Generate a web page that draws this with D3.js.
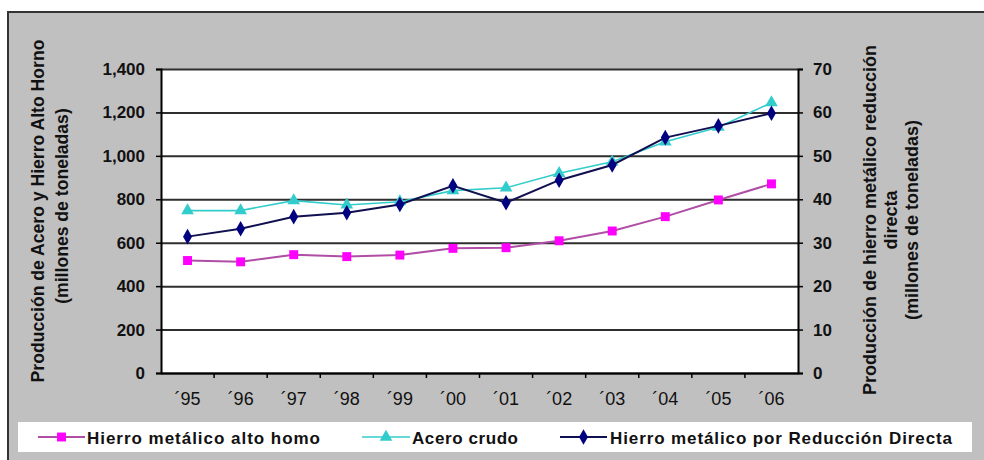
<!DOCTYPE html>
<html>
<head>
<meta charset="utf-8">
<script src="https://cdn.jsdelivr.net/npm/d3@7"></script>
<style>
  html, body { margin: 0; padding: 0; background: #ffffff; }
  svg { display: block; }
  text { font-family: "Liberation Sans", Arial, sans-serif; fill: #111; }
</style>
</head>
<body>
<svg id="chart" width="984" height="460"></svg>
<script>
// Years on the category axis
const years = ["´95", "´96", "´97", "´98", "´99", "´00", "´01", "´02", "´03", "´04", "´05", "´06"];

// Left axis series (millones de toneladas)
const hierroAltoHorno = [518, 512, 545, 536, 543, 574, 577, 609, 654, 720, 797, 871];
const aceroCrudo      = [748, 748, 794, 774, 789, 840, 853, 920, 973, 1065, 1132, 1245];

// Right axis series (millones de toneladas)
const hierroReduccion = [31.4, 33.2, 36.0, 36.9, 38.8, 43.1, 39.2, 44.4, 47.9, 54.2, 56.9, 59.8];

// Tick values
const leftTicks  = [0, 200, 400, 600, 800, 1000, 1200, 1400];
const rightTicks = [0, 10, 20, 30, 40, 50, 60, 70];

const legendLabels = ["Hierro metálico alto homo", "Acero crudo", "Hierro metálico por Reducción Directa"];

const svg = d3.select("#chart");

// Frame geometry
const plot = { left: 161, right: 798, top: 69, bottom: 373 };

// Outer gray chart area
svg.append("rect")
  .attr("x", 8).attr("y", 12)
  .attr("width", 1000).attr("height", 470)
  .attr("fill", "#c0c0c0")
  .attr("stroke", "#333").attr("stroke-width", 2);

// Plot background
svg.append("rect")
  .attr("x", plot.left).attr("y", plot.top)
  .attr("width", plot.right - plot.left).attr("height", plot.bottom - plot.top)
  .attr("fill", "#ffffff");

const x = d3.scaleBand().domain(years).range([plot.left, plot.right]);
const yL = d3.scaleLinear().domain([0, 1400]).range([plot.bottom, plot.top]);
const yR = d3.scaleLinear().domain([0, 70]).range([plot.bottom, plot.top]);
const cx = d => x(d) + x.bandwidth() / 2;

// Horizontal gridlines
svg.append("g")
  .attr("transform", `translate(${plot.left},0)`)
  .call(d3.axisLeft(yL).tickValues(leftTicks).tickSize(-(plot.right - plot.left)).tickFormat(""))
  .call(g => g.select(".domain").remove())
  .call(g => g.selectAll("line").attr("stroke", "#2e2e2e").attr("stroke-width", 2));

// Left axis
const axL = svg.append("g")
  .attr("transform", `translate(${plot.left},0)`)
  .call(d3.axisLeft(yL).tickValues(leftTicks).tickFormat(d3.format(",")).tickSize(5).tickPadding(11));
axL.select(".domain").attr("stroke", "#000").attr("stroke-width", 2);
axL.selectAll("line").attr("stroke", "#000").attr("stroke-width", 1.5);
axL.selectAll("text").attr("font-size", 17).attr("font-weight", "bold")
  .attr("font-family", "Liberation Sans, Arial, sans-serif").attr("fill", "#111");

// Right axis
const axR = svg.append("g")
  .attr("transform", `translate(${plot.right},0)`)
  .call(d3.axisRight(yR).tickValues(rightTicks).tickSize(5).tickPadding(10));
axR.select(".domain").attr("stroke", "#000").attr("stroke-width", 2);
axR.selectAll("line").attr("stroke", "#000").attr("stroke-width", 1.5);
axR.selectAll("text").attr("font-size", 17).attr("font-weight", "bold")
  .attr("font-family", "Liberation Sans, Arial, sans-serif").attr("fill", "#111");

// Bottom axis: labels centred on categories, ticks on category boundaries
const axB = svg.append("g")
  .attr("transform", `translate(0,${plot.bottom})`)
  .call(d3.axisBottom(x).tickSize(0).tickPadding(19));
axB.select(".domain").attr("stroke", "#000").attr("stroke-width", 2);
axB.selectAll("text").attr("font-size", 18)
  .attr("font-family", "Liberation Sans, Arial, sans-serif").attr("fill", "#111");
axB.selectAll(".boundary")
  .data(years.slice(1))
  .join("line")
  .attr("class", "boundary")
  .attr("x1", d => x(d)).attr("x2", d => x(d))
  .attr("y1", 0).attr("y2", 5)
  .attr("stroke", "#000").attr("stroke-width", 1.5);

// Marker shapes
const sq = d3.symbol().type(d3.symbolSquare).size(80);
const tri = d3.symbol().type(d3.symbolTriangle).size(70);
const dia = d3.symbol().type(d3.symbolDiamond).size(70);

const series = [
  { values: hierroAltoHorno, y: yL, line: "#b04ea6", fill: "#ff00ff", width: 2, sym: sq },
  { values: aceroCrudo, y: yL, line: "#33cccc", fill: "#33cccc", width: 1.6, sym: tri },
  { values: hierroReduccion, y: yR, line: "#101050", fill: "#000080", width: 2, sym: dia }
];

series.forEach(s => {
  const pts = years.map((yr, i) => [cx(yr), s.y(s.values[i])]);
  svg.append("path")
    .attr("d", d3.line()(pts))
    .attr("fill", "none")
    .attr("stroke", s.line)
    .attr("stroke-width", s.width);
  svg.append("g").selectAll("path")
    .data(pts)
    .join("path")
    .attr("d", s.sym)
    .attr("transform", p => `translate(${p[0]},${p[1]})`)
    .attr("fill", s.fill);
});

// Axis titles
const leftTitle = svg.append("g").attr("font-weight", "bold").attr("font-size", 17.6);
leftTitle.append("text")
  .attr("transform", "translate(38,211) rotate(-90)")
  .attr("text-anchor", "middle").attr("dy", "0.35em")
  .text("Producción de Acero y Hierro Alto Horno");
leftTitle.append("text")
  .attr("transform", "translate(62,206) rotate(-90)")
  .attr("text-anchor", "middle").attr("dy", "0.35em")
  .text("(millones de toneladas)");

const rightTitle = svg.append("g").attr("font-weight", "bold").attr("font-size", 18);
[["Producción de hierro metálico reducción", 870],
 ["directa", 891],
 ["(millones de toneladas)", 912]].forEach(([t, px]) => {
  rightTitle.append("text")
    .attr("transform", `translate(${px},220) rotate(-90)`)
    .attr("text-anchor", "middle").attr("dy", "0.35em")
    .text(t);
});

// Legend
svg.append("rect")
  .attr("x", 18).attr("y", 422).attr("width", 954).attr("height", 30)
  .attr("fill", "#ffffff");

const legendPos = [
  { x1: 38, x2: 85, tx: 87, tw: 233 },
  { x1: 362, x2: 410, tx: 412, tw: 106 },
  { x1: 560, x2: 607, tx: 610, tw: 342 }
];
const ly = 437;
series.forEach((s, i) => {
  const p = legendPos[i];
  const g = svg.append("g");
  g.append("line")
    .attr("x1", p.x1).attr("x2", p.x2).attr("y1", ly).attr("y2", ly)
    .attr("stroke", s.line).attr("stroke-width", s.width);
  g.append("path")
    .attr("d", s.sym)
    .attr("transform", `translate(${(p.x1 + p.x2) / 2},${ly})`)
    .attr("fill", s.fill);
  g.append("text")
    .attr("x", p.tx).attr("y", 443.5)
    .attr("font-size", 17).attr("font-weight", "bold")
    .attr("textLength", p.tw).attr("lengthAdjust", "spacing")
    .text(legendLabels[i]);
});
</script>
</body>
</html>
